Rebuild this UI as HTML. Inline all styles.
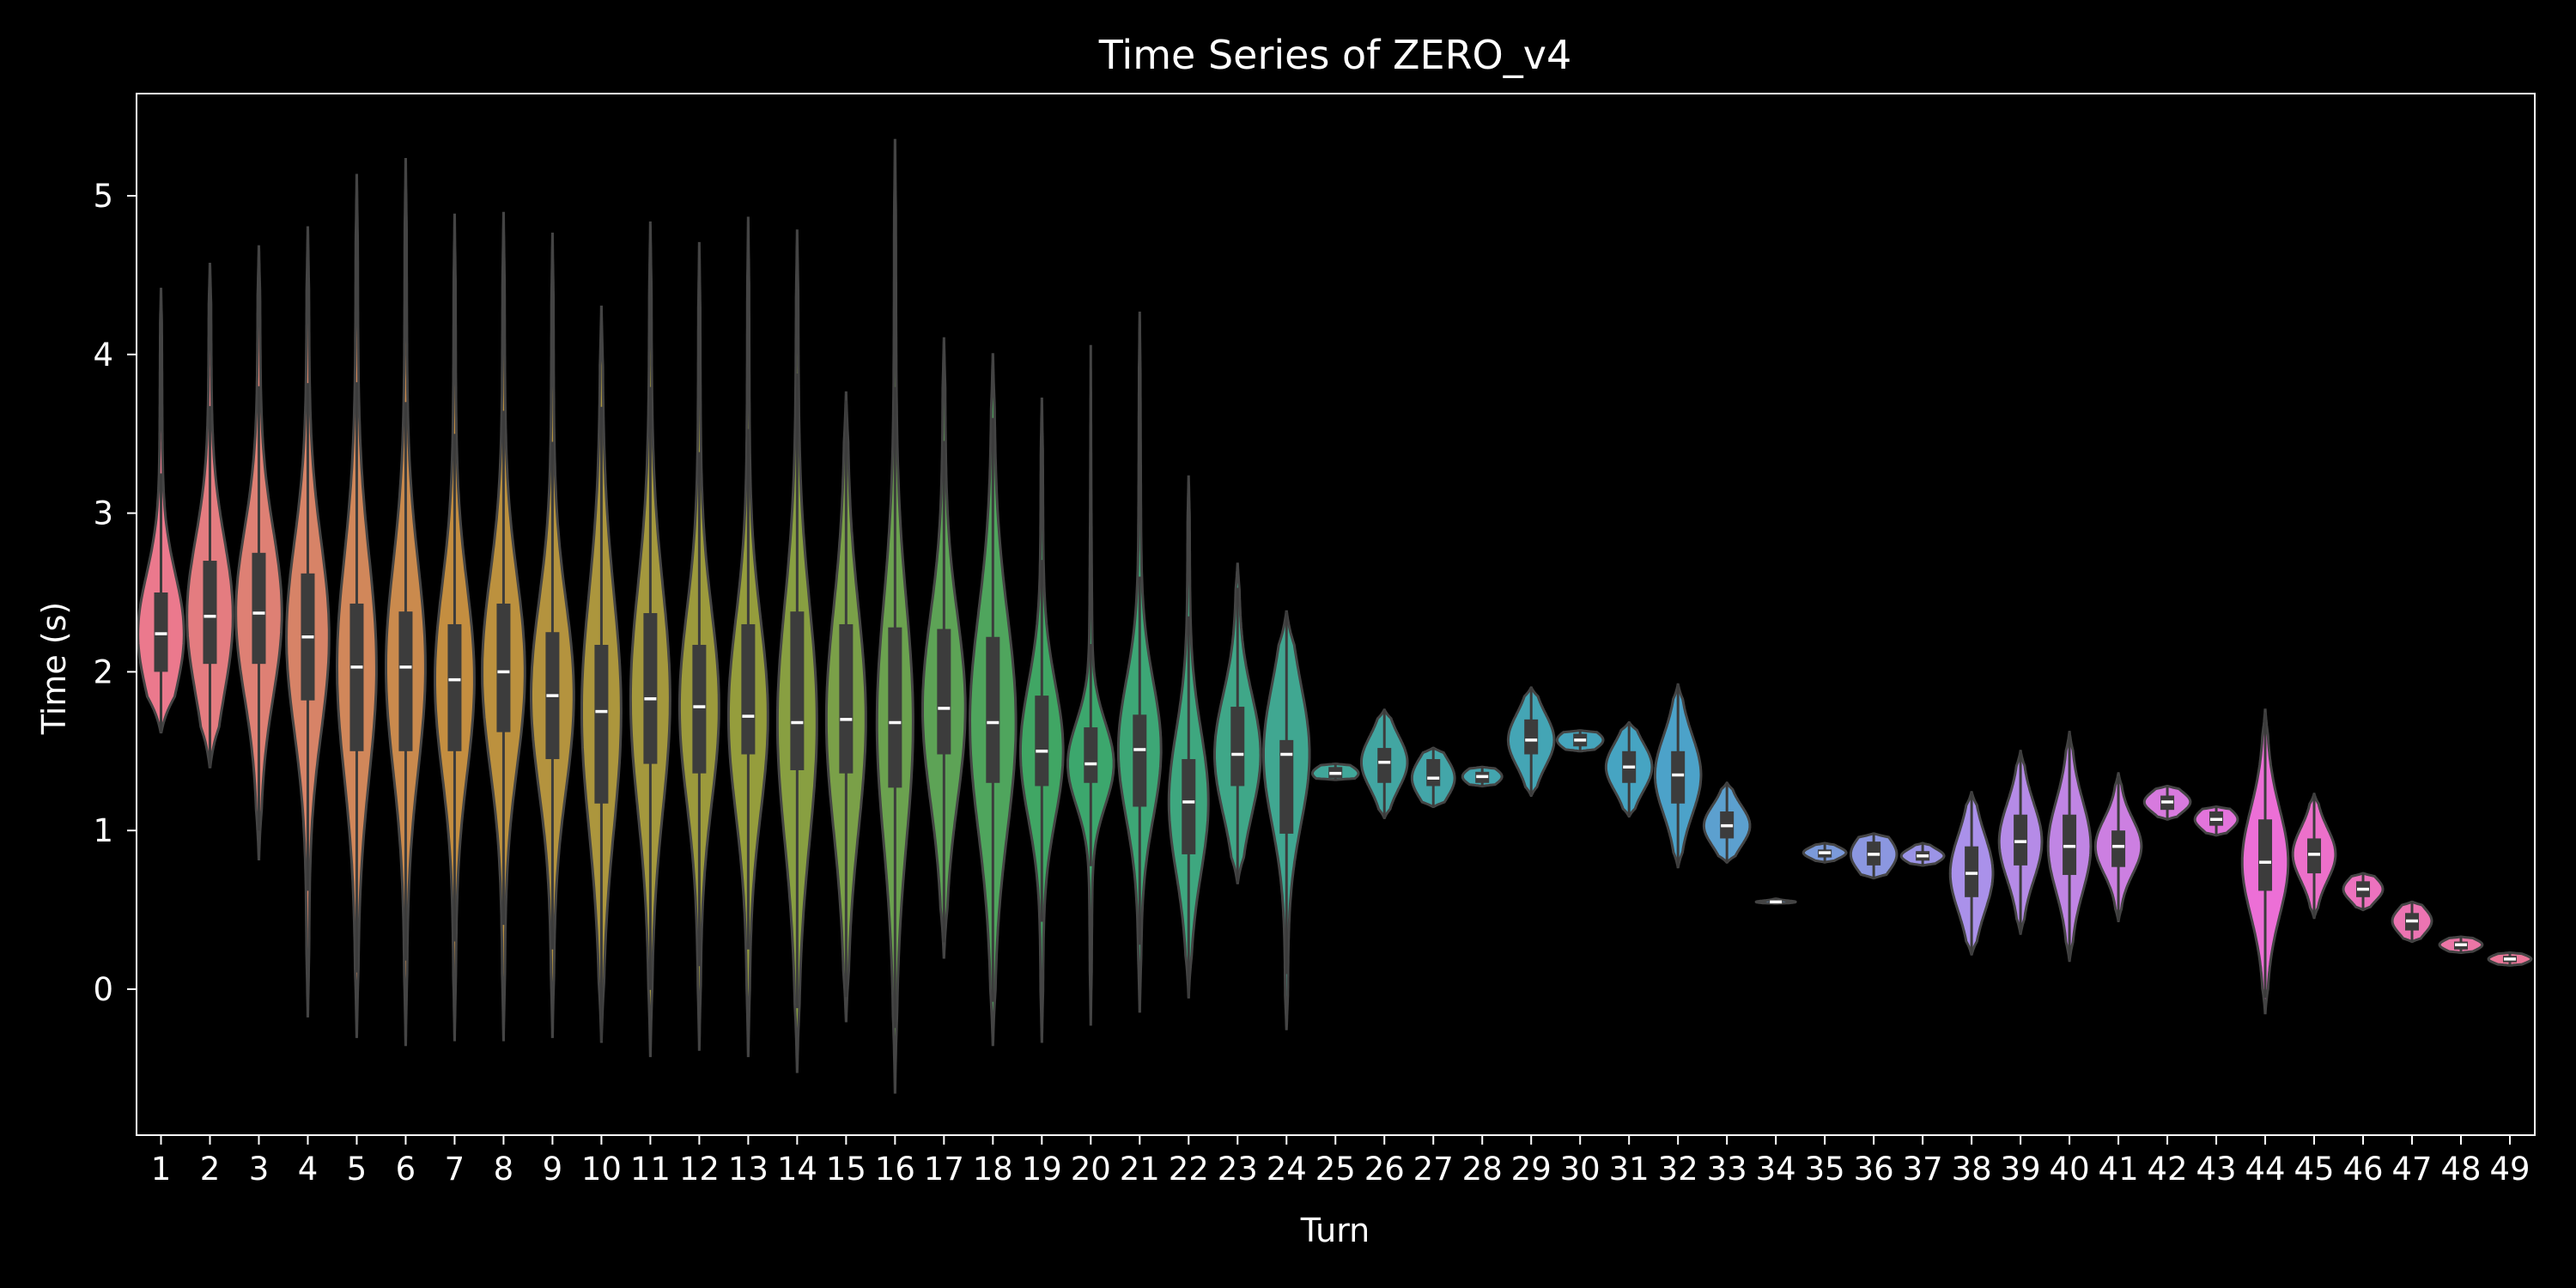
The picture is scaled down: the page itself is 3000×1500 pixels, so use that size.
<!DOCTYPE html>
<html><head><meta charset="utf-8"><style>
html,body{margin:0;padding:0;background:#000;}
svg{display:block;font-family:"DejaVu Sans","Liberation Sans",sans-serif;}
</style></head><body>
<svg id="chart" width="3000" height="1500" viewBox="0 0 3000 1500">
<rect width="3000" height="1500" fill="#000"/>
<text x="1555" y="80" fill="#fff" font-size="46" text-anchor="middle">Time Series of ZERO_v4</text>
<g id="plot"></g>
<rect x="159" y="109" width="2793" height="1213" fill="none" stroke="#fff" stroke-width="2"/>
<text x="1555" y="1446" fill="#fff" font-size="38" text-anchor="middle">Turn</text>
<text x="0" y="0" fill="#fff" font-size="38" text-anchor="middle" transform="translate(76,778) rotate(-90)">Time (s)</text>
</svg>
<script>
const turns = Array.from({length:49},(_,i)=>String(i+1));
const mins = [1.62,1.4,0.82,-0.17,-0.3,-0.35,-0.32,-0.32,-0.3,-0.33,-0.42,-0.38,-0.42,-0.52,-0.2,-0.65,0.2,-0.35,-0.33,-0.23,-0.14,-0.05,0.67,-0.25,1.32,1.08,1.15,1.28,1.22,1.5,1.09,0.77,0.8,0.54,0.8,0.7,0.78,0.22,0.35,0.18,0.43,1.07,0.97,-0.15,0.45,0.5,0.3,0.23,0.15];
const q1s = [2.0,2.05,2.05,1.82,1.5,1.5,1.5,1.62,1.45,1.17,1.42,1.36,1.48,1.38,1.36,1.27,1.48,1.3,1.28,1.3,1.15,0.85,1.28,0.98,1.33,1.3,1.28,1.3,1.48,1.53,1.3,1.17,0.95,0.55,0.83,0.78,0.81,0.58,0.78,0.72,0.77,1.13,1.03,0.62,0.73,0.58,0.37,0.25,0.17];
const medians = [2.24,2.35,2.37,2.22,2.03,2.03,1.95,2.0,1.85,1.75,1.83,1.78,1.72,1.68,1.7,1.68,1.77,1.68,1.5,1.42,1.51,1.18,1.48,1.48,1.36,1.43,1.33,1.34,1.57,1.57,1.4,1.35,1.03,0.55,0.86,0.85,0.84,0.73,0.93,0.9,0.9,1.18,1.07,0.8,0.85,0.63,0.43,0.28,0.19];
const q3s = [2.5,2.7,2.75,2.62,2.43,2.38,2.3,2.43,2.25,2.17,2.37,2.17,2.3,2.38,2.3,2.28,2.27,2.22,1.85,1.65,1.73,1.45,1.78,1.57,1.4,1.52,1.45,1.37,1.7,1.61,1.5,1.5,1.12,0.56,0.88,0.93,0.87,0.9,1.1,1.1,1.0,1.22,1.12,1.07,0.95,0.68,0.48,0.3,0.21];
const maxs = [4.42,4.57,4.68,4.8,5.13,5.23,4.88,4.89,4.76,4.3,4.83,4.7,4.86,4.78,3.76,5.35,4.1,4.0,3.72,4.06,4.27,3.23,2.68,2.38,1.42,1.76,1.52,1.4,1.9,1.63,1.68,1.92,1.3,0.57,0.92,0.98,0.92,1.24,1.5,1.62,1.36,1.28,1.15,1.76,1.23,0.73,0.55,0.33,0.23];
const halfWidths = [14,14,14,13,12,12,12,13,13,12,12,12,12,12,12,11,13,14,13,14,13,12,14,14,14,14,13,12,14,14,14,14,14,12,13,14,13,13,13,13,14,14,13,14,13,12,12,13,13];
const yTicks = [0,1,2,3,4,5];

const NS="http://www.w3.org/2000/svg";
const plot=document.getElementById('plot');
const svg=document.getElementById('chart');
const X0=187.5, DX=(2923-187.5)/48;
const xScale=i=>X0+i*DX;
const yScale=v=>1152-v*184.8;
const anchors=[[247,113,137],[206,144,50],[151,164,49],[50,177,102],[54,173,164],[57,167,208],[164,140,244],[245,97,221],[247,113,137]];
function color(i){
  const t=i/49*8; const k=Math.floor(t), f=t-k;
  const a=anchors[k], b=anchors[k+1];
  let c=a.map((v,j)=>v+(b[j]-v)*f);
  const g=(c[0]+c[1]+c[2])/3; c=c.map(v=>Math.round(v*0.85+g*0.15));
  return `rgb(${c[0]},${c[1]},${c[2]})`;
}
function mk(tag,attrs){const e=document.createElementNS(NS,tag);for(const k in attrs)e.setAttribute(k,attrs[k]);return e;}

yTicks.forEach(v=>{
  const y=yScale(v);
  const l=mk('line',{x1:159,x2:148,y1:y,y2:y,stroke:'#fff','stroke-width':2});
  
  
  svg.appendChild(l);
  const t=mk('text',{x:132,y:y+13,fill:'#fff','font-size':37,'text-anchor':'end'});
  
  
  t.textContent=String(v);svg.appendChild(t);
});

turns.forEach((lab,i)=>{
  const x=xScale(i);
  const l=mk('line',{x1:x,x2:x,y1:1322,y2:1333,stroke:'#fff','stroke-width':2});
  
  
  svg.appendChild(l);
  const t=mk('text',{x:x,y:1374,fill:'#fff','font-size':37,'text-anchor':'middle'});
  
  
  t.textContent=lab;svg.appendChild(t);

  const mn=mins[i],mx=maxs[i],m=medians[i],a=q1s[i],b=q3s[i];
  const s=Math.max((b-a)/1.35,0.005);
  const W=halfWidths[i]*1.913;
  const N=100;
  let dens=[],dmax=0;
  for(let k=0;k<=N;k++){
    const v=mn+(mx-mn)*k/N;
    const z=(v-m)/s;
    let d=0.92*Math.exp(-0.5*z*z)+0.08*Math.exp(-0.5*z*z/16);
    const e=Math.min(k,N-k)/N;
    d*=Math.min(1,e*12+0.05);
    dens.push([v,d]);dmax=Math.max(dmax,d);
  }
  const right=dens.map(([v,d])=>[x+W*d/dmax,yScale(v)]);
  const left=dens.slice().reverse().map(([v,d])=>[x-W*d/dmax,yScale(v)]);
  const all=right.concat(left);
  const p=mk('path',{d:'M'+all.map(q=>q[0].toFixed(1)+','+q[1].toFixed(1)).join('L')+'Z',fill:color(i),stroke:'#444','stroke-width':3});
  
  
  plot.appendChild(p);
  const wl=mk('line',{x1:x,x2:x,y1:yScale(Math.max(mn,a-1.5*(b-a))),y2:yScale(Math.min(mx,b+1.5*(b-a))),stroke:'#3c3c3c','stroke-width':3});
  
  
  plot.appendChild(wl);
  const bx=mk('rect',{x:x-8,y:yScale(b),width:16,height:Math.max(2,yScale(a)-yScale(b)),fill:'#3c3c3c'});
  
  
  plot.appendChild(bx);
  const md=mk('line',{x1:x-7,x2:x+7,y1:yScale(m),y2:yScale(m),stroke:'#fff','stroke-width':3.5});
  
  
  plot.appendChild(md);
});
</script>
</body></html>
